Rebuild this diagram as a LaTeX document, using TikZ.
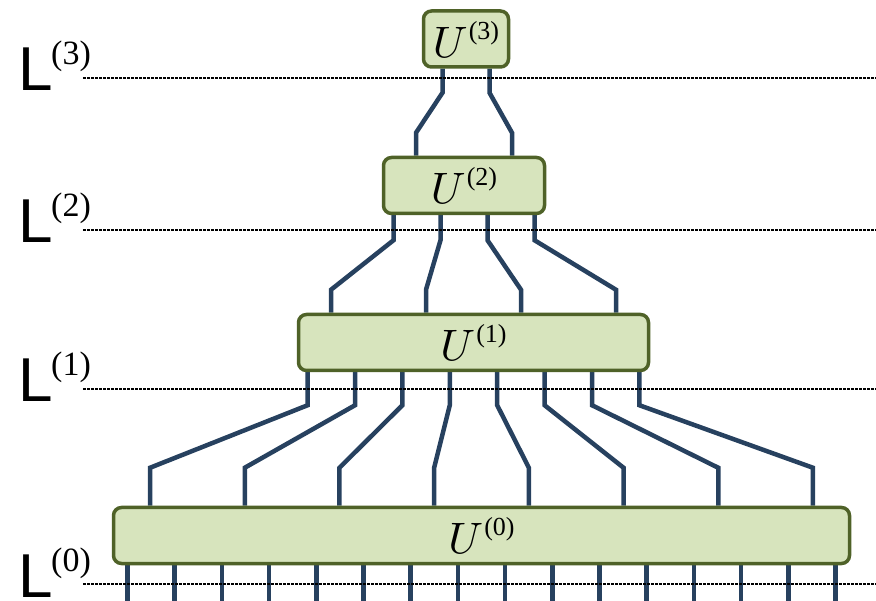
\documentclass[tikz,border=0pt]{standalone}
\usepackage{fontspec}
\newfontfamily\levelfont{Liberation Sans}
\newfontfamily\expfont{Liberation Serif}
\usepackage{tikz}
\usetikzlibrary{positioning, calc, backgrounds}

\definecolor{boxfill}{HTML}{D7E4BD}
\definecolor{boxborder}{HTML}{4F6228}
\definecolor{wireblue}{HTML}{27415F}

% big math label for a layer
\newcommand{\layername}[1]{\scalebox{4.4}{$U$}\kern1pt\raisebox{18pt}{\expfont\fontsize{26}{26}\selectfont(#1)}}

\begin{document}
\begin{tikzpicture}[x=1pt, y=-1pt,
        box/.style={draw=boxborder, fill=boxfill, line width=3.5pt, rounded corners=8pt,
            minimum height=56pt, inner sep=0pt},
        wire/.style={draw=wireblue, line width=4.5pt},
        level/.style={line width=2.2pt, dash pattern=on 2.5pt off 1.5pt},
        levelname/.style={anchor=base west, inner sep=0pt, font=\levelfont\fontsize{62}{62}\selectfont},
        levelexp/.style={anchor=base west, inner sep=0pt, font=\expfont\fontsize{34}{34}\selectfont}
    ]
    \useasboundingbox (0,0) rectangle (876,601);

    % the four layers
    \node[box, minimum width=85pt]  (u3) at (466,39)    {\layername{3}};
    \node[box, minimum width=161pt] (u2) at (464,185.5) {\layername{2}};
    \node[box, minimum width=350pt] (u1) at (473.5,342.5) {\layername{1}};
    \node[box, minimum width=736pt] (u0) at (481.5,535.5) {\layername{0}};

    \begin{pgfonlayer}{background}
        % U3 -> U2
        \foreach \i in {-1,1}
        {
            \draw[wire] ([xshift={\i*23.5pt}]u3.south) -- ++(0,24)
                -- ($([xshift={\i*48pt}]u2.north)+(0,-23)$) -- ([xshift={\i*48pt}]u2.north);
        }

        % U2 -> U1
        \foreach \i in {-3,-1,1,3}
        {
            \draw[wire] ([xshift={\i*23.5pt}]u2.south) -- ++(0,25)
                -- ($([xshift={\i*47.5pt}]u1.north)+(0,-23)$) -- ([xshift={\i*47.5pt}]u1.north);
        }

        % U1 -> U0
        \foreach \i in {-7,-5,...,7}
        {
            \draw[wire] ([xshift={\i*23.7pt}]u1.south) -- ++(0,33)
                -- ($([xshift={\i*47.35pt}]u0.north)+(0,-38)$) -- ([xshift={\i*47.35pt}]u0.north);
        }

        % open legs below U0
        \foreach \i in {-15,-13,...,15}
        {
            \draw[wire] ([xshift={\i*23.6pt}]u0.south) -- ++(0,37);
        }
    \end{pgfonlayer}

    % level lines and their names
    \foreach \k/\y in {3/78, 2/230, 1/389, 0/584}
    {
        \draw[level] (83,\y) -- (876,\y);
        \node[levelname] (L\k) at (18,\y+13) {L};
        \node[levelexp] (E\k) at (51,\y-13) {(\k)};
    }
\end{tikzpicture}
\end{document}
